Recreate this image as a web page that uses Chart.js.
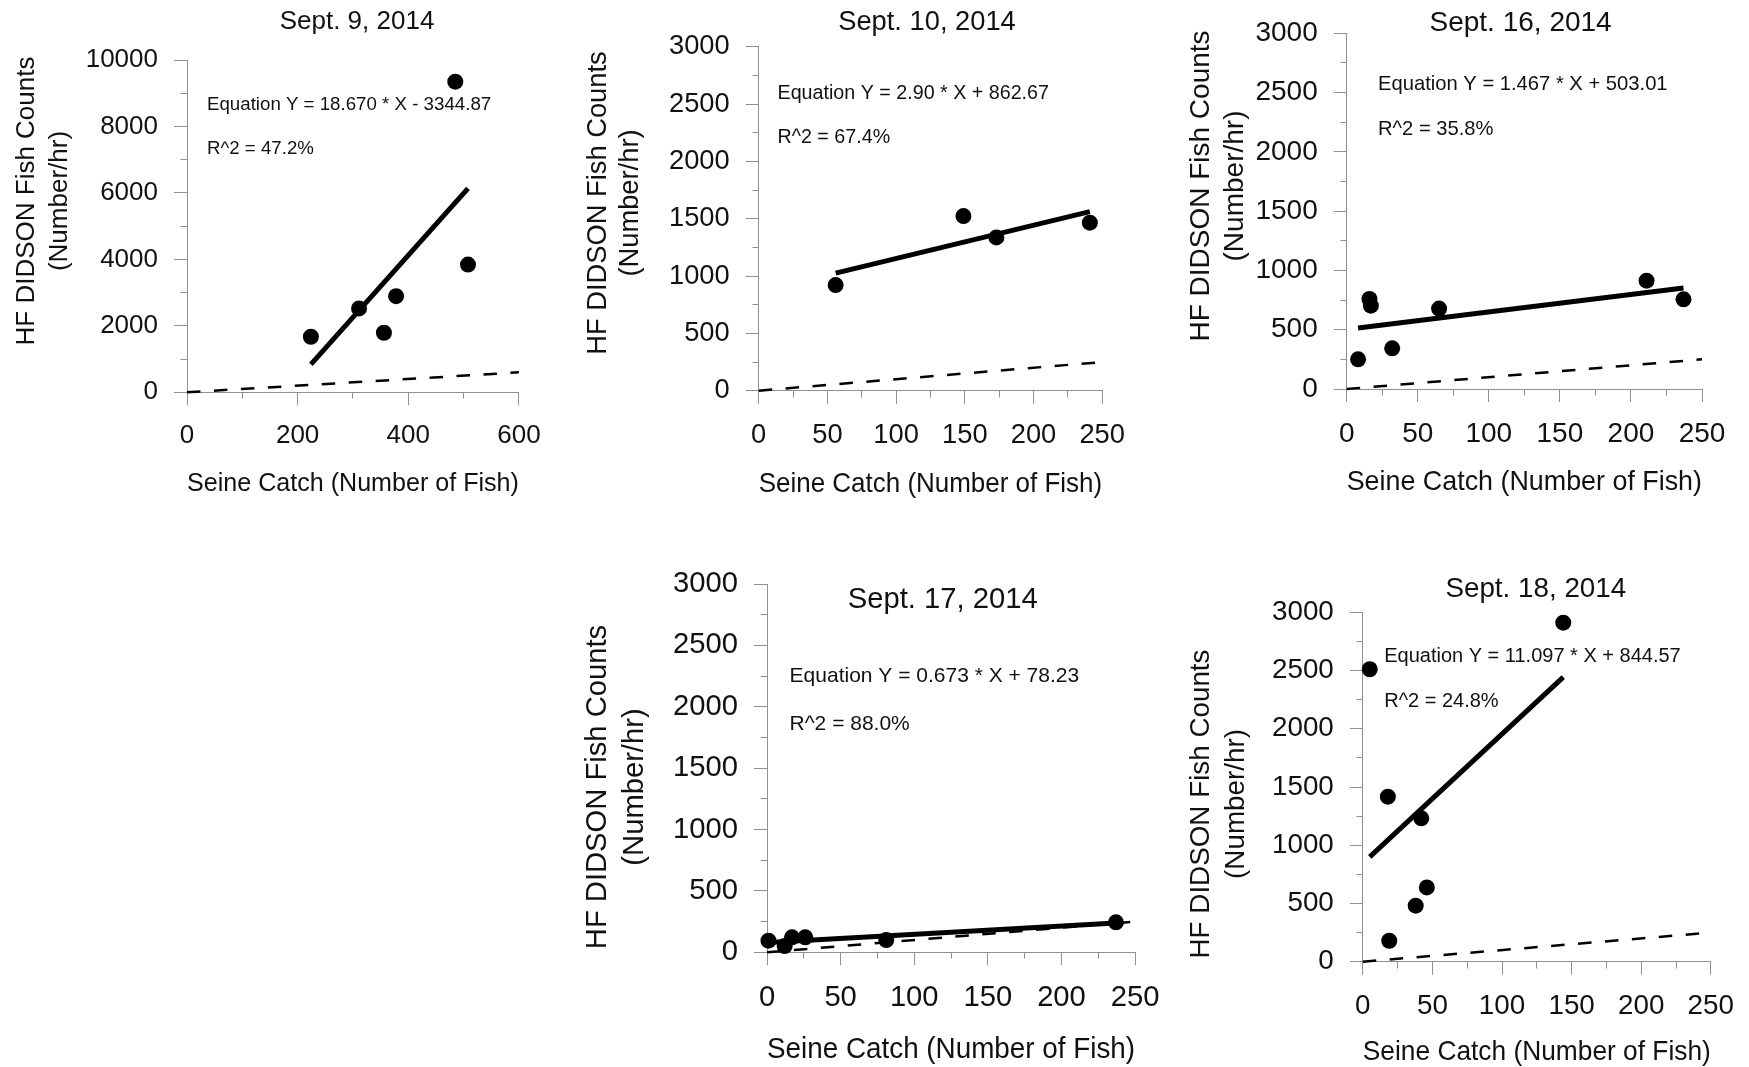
<!DOCTYPE html>
<html>
<head>
<meta charset="utf-8">
<title>HF DIDSON fish counts vs seine catch</title>
<script src="https://cdn.jsdelivr.net/npm/chart.js@4.4.1/dist/chart.umd.min.js"></script>
<style>
    html, body { margin: 0; padding: 0; background: #fff; }
    #page { position: relative; width: 1749px; height: 1067px; overflow: hidden; background: #fff; }
    #page canvas { position: absolute; left: 0; top: 0; }
</style>
</head>
<body>
<div id="page">
    <canvas id="chSept9" width="1749" height="1067"></canvas>
    <canvas id="chSept10" width="1749" height="1067"></canvas>
    <canvas id="chSept16" width="1749" height="1067"></canvas>
    <canvas id="chSept17" width="1749" height="1067"></canvas>
    <canvas id="chSept18" width="1749" height="1067"></canvas>
</div>
<script>
/* data */

// Sept. 9
var sept9X = [224, 311, 356, 378, 485, 508];
var sept9Y = [1672, 2523, 1792, 2893, 9349, 3844];
var sept9FitX = [224, 508];
var sept9FitY = [838, 6139];

// Sept. 10
var sept10X = [56, 149, 173, 241];
var sept10Y = [921, 1523, 1337, 1465];
var sept10FitX = [56, 241];
var sept10FitY = [1025, 1562];

// Sept. 16
var sept16X = [8, 16, 17, 32, 65, 211, 237];
var sept16Y = [250, 759, 703, 343, 678, 914, 756];
var sept16FitX = [8, 237];
var sept16FitY = [515, 851];

// Sept. 17
var sept17X = [1, 12, 17, 26, 81, 237];
var sept17Y = [95, 51, 122, 122, 100, 244];
var sept17FitX = [1, 237];
var sept17FitY = [79, 238];

// Sept. 18
var sept18X = [5, 18, 19, 38, 42, 46, 144];
var sept18Y = [2511, 1417, 180, 481, 1231, 638, 2911];
var sept18FitX = [5, 144];
var sept18FitY = [900, 2443];

// 1:1 reference lines
var oneToOne600 = [0, 600];
var oneToOne250 = [0, 250];

// tick labels
var xTicks600 = [0, 200, 400, 600];
var xTicks250 = [0, 50, 100, 150, 200, 250];
var yTicks10000 = [0, 2000, 4000, 6000, 8000, 10000];
var yTicks3000 = [0, 500, 1000, 1500, 2000, 2500, 3000];

var xTitle = 'Seine Catch (Number of Fish)';
var yTitle = ['HF DIDSON Fish Counts', '(Number/hr)'];

/* chart.js setup */
var fontFamily = '"Liberation Sans", Arial, sans-serif';
var axisGray = '#909090';
var ink = '#111';

Chart.defaults.font.family = fontFamily;
Chart.defaults.color = ink;

// title, equation and rotated y title, drawn on the canvas
var panelText = {
    id: 'panelText',
    afterDraw: function (chart, args, opts) {
        var ctx = chart.ctx;
        ctx.save();
        ctx.fillStyle = ink;
        ctx.textBaseline = 'middle';

        ctx.font = opts.size + 'px ' + fontFamily;
        ctx.textAlign = 'center';
        ctx.fillText(opts.title, opts.titleAt[0], opts.titleAt[1]);

        ctx.font = (opts.size * 0.72).toFixed(1) + 'px ' + fontFamily;
        ctx.textAlign = 'left';
        ctx.fillText(opts.equation, opts.eqAt[0], opts.eqAt[1]);
        ctx.fillText(opts.r2, opts.eqAt[0], opts.eqAt[2]);

        ctx.font = opts.size + 'px ' + fontFamily;
        ctx.textAlign = 'center';
        for (var i = 0; i < yTitle.length; i++) {
            ctx.save();
            ctx.translate(opts.yTitleX[i], opts.yTitleY);
            ctx.rotate(-Math.PI / 2);
            ctx.fillText(yTitle[i], 0, 0);
            ctx.restore();
        }
        ctx.restore();
    }
};

function pairs(xs, ys) {
    return xs.map(function (x, i) { return { x: x, y: ys[i] }; });
}

function drawPanel(id, p) {
    var el = document.getElementById(id);
    if (!el) { return; }
    var W = el.width;
    var H = el.height;
    var wy = 140; // room for the y tick labels
    var xTitleSize = p.size * 1.01;
    var hx = p.xTitleY - p.area[3] + 0.6 * xTitleSize;

    new Chart(el, {
        type: 'scatter',
        data: {
            datasets: [
                {
                    label: 'Observed',
                    data: pairs(p.x, p.y),
                    pointRadius: 8,
                    pointBackgroundColor: '#000',
                    pointBorderWidth: 0,
                    clip: false
                },
                {
                    label: 'Regression',
                    data: pairs(p.fitX, p.fitY),
                    showLine: true,
                    borderColor: '#000',
                    borderWidth: 5,
                    pointRadius: 0,
                    clip: false
                },
                {
                    label: '1:1',
                    data: pairs(p.one, p.one),
                    showLine: true,
                    borderColor: '#000',
                    borderWidth: 2.5,
                    borderDash: [13.5, 13.5],
                    pointRadius: 0,
                    clip: false
                }
            ]
        },
        options: {
            responsive: false,
            animation: false,
            events: [],
            layout: {
                padding: {
                    left: p.area[0] - wy,
                    top: p.area[1],
                    right: W - p.area[2],
                    bottom: H - p.area[3] - hx
                }
            },
            scales: {
                x: {
                    type: 'linear',
                    position: 'bottom',
                    min: 0,
                    max: p.xTicks[p.xTicks.length - 1],
                    afterBuildTicks: function (s) { s.ticks = p.xTicks.map(function (v) { return { value: v }; }); },
                    afterFit: function (s) { s.height = hx; },
                    ticks: {
                        color: ink,
                        font: { size: p.size },
                        padding: 15,
                        maxRotation: 0,
                        autoSkip: false,
                        callback: function (v) { return String(v); }
                    },
                    grid: { drawOnChartArea: false, tickLength: 13, color: axisGray },
                    border: { color: axisGray },
                    title: { display: true, text: xTitle, color: ink, font: { size: xTitleSize }, padding: 0 }
                },
                xMinor: {
                    axis: 'x',
                    type: 'linear',
                    position: { y: 0 },
                    min: 0,
                    max: p.xTicks[p.xTicks.length - 1],
                    ticks: { display: false, stepSize: p.xMinor },
                    grid: { drawOnChartArea: false, tickLength: 6.5, color: axisGray },
                    border: { display: false }
                },
                y: {
                    type: 'linear',
                    position: 'left',
                    min: 0,
                    max: p.yTicks[p.yTicks.length - 1],
                    afterBuildTicks: function (s) { s.ticks = p.yTicks.map(function (v) { return { value: v }; }); },
                    afterFit: function (s) { s.width = wy; },
                    ticks: {
                        color: ink,
                        font: { size: p.size },
                        padding: 16,
                        autoSkip: false,
                        callback: function (v) { return String(v); }
                    },
                    grid: { drawOnChartArea: false, tickLength: 13, color: axisGray },
                    border: { color: axisGray }
                },
                yMinor: {
                    axis: 'y',
                    type: 'linear',
                    position: { x: 0 },
                    min: 0,
                    max: p.yTicks[p.yTicks.length - 1],
                    ticks: { display: false, stepSize: p.yMinor },
                    grid: { drawOnChartArea: false, tickLength: 6.5, color: axisGray },
                    border: { display: false }
                }
            },
            plugins: {
                legend: { display: false },
                tooltip: { enabled: false },
                panelText: {
                    size: p.size,
                    title: p.title,
                    titleAt: p.titleAt,
                    equation: p.equation,
                    r2: p.r2,
                    eqAt: p.eqAt,
                    yTitleX: p.yTitleX,
                    yTitleY: p.yTitleY
                }
            }
        },
        plugins: [panelText]
    });
}

// panel 1
drawPanel('chSept9', {
    x: sept9X, y: sept9Y, fitX: sept9FitX, fitY: sept9FitY, one: oneToOne600,
    xTicks: xTicks600, xMinor: 100, yTicks: yTicks10000, yMinor: 1000,
    area: [187, 60, 518.9, 392.3], size: 26,
    title: 'Sept. 9, 2014', titleAt: [357, 22],
    equation: 'Equation Y = 18.670 * X - 3344.87', r2: 'R^2 = 47.2%', eqAt: [207, 105, 149],
    yTitleX: [26.8, 59.6], yTitleY: 201, xTitleY: 484
});

// panel 2
drawPanel('chSept10', {
    x: sept10X, y: sept10Y, fitX: sept10FitX, fitY: sept10FitY, one: oneToOne250,
    xTicks: xTicks250, xMinor: 25, yTicks: yTicks3000, yMinor: 250,
    area: [758.7, 46.7, 1102.2, 390.7], size: 27.3,
    title: 'Sept. 10, 2014', titleAt: [927, 22],
    equation: 'Equation Y = 2.90 * X + 862.67', r2: 'R^2 = 67.4%', eqAt: [777.5, 94, 137.7],
    yTitleX: [598, 630.6], yTitleY: 203, xTitleY: 484
});

// panel 3
drawPanel('chSept16', {
    x: sept16X, y: sept16Y, fitX: sept16FitX, fitY: sept16FitY, one: oneToOne250,
    xTicks: xTicks250, xMinor: 25, yTicks: yTicks3000, yMinor: 250,
    area: [1346.7, 33.3, 1702, 389], size: 28,
    title: 'Sept. 16, 2014', titleAt: [1520.6, 23.3],
    equation: 'Equation Y = 1.467 * X + 503.01', r2: 'R^2 = 35.8%', eqAt: [1378, 84, 129.3],
    yTitleX: [1201.6, 1234.9], yTitleY: 186, xTitleY: 482
});

// panel 4
drawPanel('chSept17', {
    x: sept17X, y: sept17Y, fitX: sept17FitX, fitY: sept17FitY, one: oneToOne250,
    xTicks: xTicks250, xMinor: 25, yTicks: yTicks3000, yMinor: 250,
    area: [767, 584, 1135.1, 952.3], size: 29.2,
    title: 'Sept. 17, 2014', titleAt: [942.7, 600],
    equation: 'Equation Y = 0.673 * X + 78.23', r2: 'R^2 = 88.0%', eqAt: [789.6, 676.7, 724.3],
    yTitleX: [598.3, 635.4], yTitleY: 787, xTitleY: 1050
});

// panel 5
drawPanel('chSept18', {
    x: sept18X, y: sept18Y, fitX: sept18FitX, fitY: sept18FitY, one: oneToOne250,
    xTicks: xTicks250, xMinor: 25, yTicks: yTicks3000, yMinor: 250,
    area: [1362.8, 612.3, 1712.3, 961.7], size: 27.8,
    title: 'Sept. 18, 2014', titleAt: [1535.8, 589.8],
    equation: 'Equation Y = 11.097 * X + 844.57', r2: 'R^2 = 24.8%', eqAt: [1384.2, 656.7, 701.7],
    yTitleX: [1201.6, 1236.7], yTitleY: 804, xTitleY: 1052
});
</script>
</body>
</html>
